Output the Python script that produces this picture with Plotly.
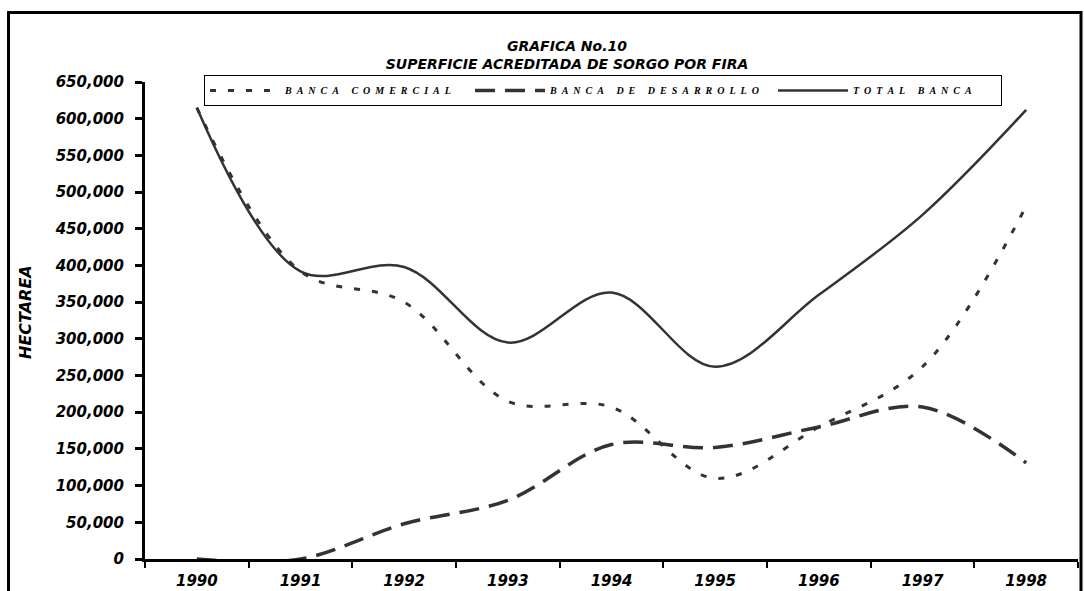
import plotly.graph_objects as go

# values (hectares)
YEARS = ["1990", "1991", "1992", "1993", "1994", "1995", "1996", "1997", "1998"]
BANCA_COMERCIAL = [615000, 392000, 350000, 215000, 207000, 110000, 180000, 262000, 481000]
BANCA_DESARROLLO = [0, 0, 48000, 80000, 156000, 152000, 180000, 207000, 131000]
TOTAL_BANCA = [615000, 392000, 398000, 295000, 363000, 262000, 360000, 469000, 612000]
Y_TICKS = [0, 50000, 100000, 150000, 200000, 250000, 300000, 350000,
           400000, 450000, 500000, 550000, 600000, 650000]

W, H = 1084, 591
PLOT_L, PLOT_R, PLOT_T, PLOT_B = 145, 1078, 82, 559
PW, PH = PLOT_R - PLOT_L, PLOT_B - PLOT_T

LINE_COLOR = "#333333"
AXIS_FONT = {"family": "DejaVu Sans", "size": 15, "color": "black",
             "weight": "bold", "style": "italic"}
LEGEND_FONT = {"family": "Liberation Serif", "size": 10, "color": "black",
               "weight": "bold", "style": "italic"}


def px_x(x):
    return (x - PLOT_L) / PW


def px_y(y):
    return (PLOT_B - y) / PH


def spaced(label):
    # letter-spaced legend text like the old spreadsheet chart
    nb = "\u00a0"
    words = [(nb * 2).join(word) for word in label.split()]
    return (nb * 5).join(words)


fig = go.Figure()
fig.add_trace(
    go.Scatter(
        x=YEARS,
        y=BANCA_COMERCIAL,
        mode="lines",
        name=spaced("BANCA COMERCIAL"),
        line={"color": LINE_COLOR, "width": 3, "dash": "6px,12px", "shape": "spline"},
        legendwidth=180,
    )
)
fig.add_trace(
    go.Scatter(
        x=YEARS,
        y=BANCA_DESARROLLO,
        mode="lines",
        name=spaced("BANCA DE DESARROLLO"),
        line={"color": LINE_COLOR, "width": 3.5, "dash": "20px,10px", "shape": "spline"},
        legendwidth=218,
    )
)
fig.add_trace(
    go.Scatter(
        x=YEARS,
        y=TOTAL_BANCA,
        mode="lines",
        name=spaced("TOTAL BANCA"),
        line={"color": LINE_COLOR, "width": 2.5, "shape": "spline"},
        legendwidth=143,
    )
)

fig.update_xaxes(
    type="category",
    range=[-0.5, 8.5],
    tickson="boundaries",
    ticks="outside",
    ticklen=6,
    tickwidth=2,
    tickcolor="black",
    showline=True,
    linewidth=3,
    linecolor="black",
    showgrid=False,
    zeroline=False,
    tickfont=AXIS_FONT,
    ticklabelstandoff=6,
    automargin=False,
)
fig.update_yaxes(
    range=[0, 650000],
    tickvals=Y_TICKS,
    tickformat=",",
    ticks="outside",
    ticklen=7,
    tickwidth=3,
    tickcolor="black",
    showline=True,
    linewidth=3,
    linecolor="black",
    showgrid=False,
    zeroline=False,
    tickfont=AXIS_FONT,
    ticklabelstandoff=8,
    automargin=False,
)

fig.add_annotation(
    text="HECTAREA",
    textangle=-90,
    x=px_x(25),
    y=px_y(312),
    xref="paper",
    yref="paper",
    xanchor="center",
    yanchor="middle",
    showarrow=False,
    font={**AXIS_FONT, "size": 16},
)

# thick frame around the whole chart
fig.add_shape(
    type="rect",
    xref="paper",
    yref="paper",
    x0=px_x(8.5),
    x1=px_x(1081),
    y0=px_y(620),
    y1=px_y(12.5),
    line={"color": "black", "width": 3},
    layer="below",
)

fig.update_layout(
    width=W,
    height=H,
    margin={"l": PLOT_L, "r": W - PLOT_R, "t": PLOT_T, "b": H - PLOT_B, "autoexpand": False},
    paper_bgcolor="white",
    plot_bgcolor="white",
    title={
        "text": "GRAFICA No.10<br>SUPERFICIE ACREDITADA DE SORGO POR FIRA",
        "x": 567 / W,
        "xref": "container",
        "xanchor": "center",
        "y": 1 - 51 / H,
        "yref": "container",
        "yanchor": "middle",
        "font": {"family": "DejaVu Sans", "size": 14, "color": "black",
                 "weight": "bold", "style": "italic"},
    },
    legend={
        "orientation": "h",
        "x": px_x(204),
        "xanchor": "left",
        "y": px_y(75),
        "yanchor": "top",
        "bordercolor": "black",
        "borderwidth": 1,
        "bgcolor": "white",
        "font": LEGEND_FONT,
        "itemwidth": 70,
        "traceorder": "normal",
    },
)

fig.write_html(
    "out.html",
    config={"displayModeBar": False},
    post_script="document.body.style.margin='0';",
)
